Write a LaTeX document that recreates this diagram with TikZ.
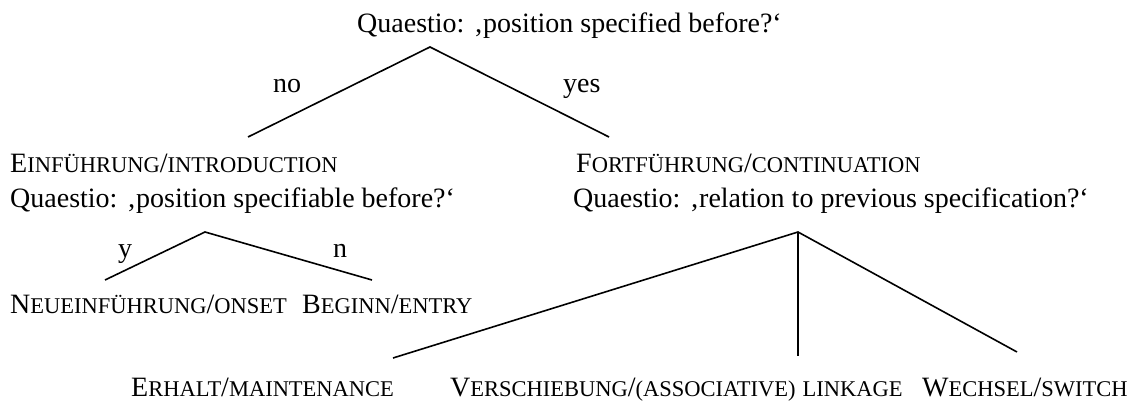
\documentclass[tikz,border=0pt]{standalone}
\usepackage{fontspec}
\setmainfont{Liberation Serif}
\newcommand{\smc}[1]{{\fontsize{22.5}{22.5}\selectfont #1}}
\begin{document}
\begin{tikzpicture}[x=1pt,y=-1pt,
  lbl/.style={anchor=base west,inner sep=0pt,font=\fontsize{28}{32}\selectfont},
  branch/.style={line width=1.6pt}]
\useasboundingbox (0,0) rectangle (1141,403);
% texts
\node[lbl] (q0) at (357,33) {Quaestio: ‚position specified before?‘};
\node[lbl] (no) at (273,93) {no};
\node[lbl] (yes) at (563,93) {yes};
\node[lbl] (ein) at (10,173) {E\smc{INFÜHRUNG}/\smc{INTRODUCTION}};
\node[lbl] (q1) at (10,208) {Quaestio: ‚position specifiable before?‘};
\node[lbl] (fort) at (576,173) {F\smc{ORTFÜHRUNG}/\smc{CONTINUATION}};
\node[lbl] (q2) at (573,208) {Quaestio: ‚relation to previous specification?‘};
\node[lbl] (y) at (118,258) {y};
\node[lbl] (n) at (333,258) {n};
\node[lbl] (neu) at (10,314) {N\smc{EUEINFÜHRUNG}/\smc{ONSET}};
\node[lbl] (beg) at (302,314) {B\smc{EGINN}/\smc{ENTRY}};
\node[lbl] (erh) at (131,396) {E\smc{RHALT}/\smc{MAINTENANCE}};
\node[lbl] (ver) at (450,396) {V\smc{ERSCHIEBUNG}/\smc{(ASSOCIATIVE)} \smc{LINKAGE}};
\node[lbl] (wec) at (922,396) {W\smc{ECHSEL}/\smc{SWITCH}};
% branch points
\coordinate (t0) at (430,47);
\coordinate (t0l) at (248,137);
\coordinate (t0r) at (609,137);
\coordinate (t1) at (205,232);
\coordinate (t1l) at (105,280);
\coordinate (t1r) at (372,280);
\coordinate (t2) at (798,232);
\coordinate (t2l) at (393,358);
\coordinate (t2m) at (798,356);
\coordinate (t2r) at (1017,352);
\draw[branch] (t0l) -- (t0) -- (t0r);
\draw[branch] (t1l) -- (t1) -- (t1r);
\draw[branch] (t2l) -- (t2) -- (t2r);
\draw[branch] (t2) -- (t2m);
\end{tikzpicture}
\end{document}
